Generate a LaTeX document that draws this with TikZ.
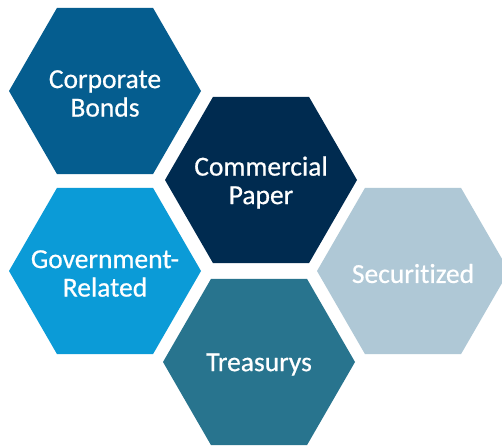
\documentclass[tikz,border=0pt]{standalone}
\usepackage{fontspec}
\setmainfont{Carlito}[FakeBold=0.6, Ligatures=NoCommon]
\usetikzlibrary{shapes.geometric}
\definecolor{corpblue}{RGB}{5,93,143}
\definecolor{paperblue}{RGB}{0,43,80}
\definecolor{govblue}{RGB}{11,155,215}
\definecolor{secblue}{RGB}{175,200,214}
\definecolor{treasblue}{RGB}{40,116,142}
\tikzset{
  hexcell/.style={regular polygon, regular polygon sides=6, minimum size=192pt,
    inner sep=0pt, outer sep=0pt, draw=none},
  hextext/.style={text=white, align=center, inner sep=0pt, yshift=-2.5pt,
    font=\fontsize{27.5}{28.5}\selectfont}
}
\begin{document}
\begin{tikzpicture}[x=1pt,y=-1pt]
  \useasboundingbox (0,0) rectangle (502,446);
  \clip (0,0) rectangle (502,446);
  \fill[white] (0,0) rectangle (502,446);
  % hexagonal cells, each with its caption centred on it
  \node[hexcell, fill=corpblue,  label={[hextext]center:Corporate\\Bonds}]    (corp)  at (105,91)  {};
  \node[hexcell, fill=paperblue, label={[hextext]center:Commercial\\Paper}]   (paper) at (261,180) {};
  \node[hexcell, fill=govblue,   label={[hextext]center:Government-\\Related}] (gov)   at (105,271) {};
  % the kern keeps "t" and "i" as separate glyphs
  \node[hexcell, fill=secblue,   label={[hextext]center:Securit\kern0pt ized}] (sec)   at (413,271) {};
  \node[hexcell, fill=treasblue, label={[hextext]center:Treasurys}]           (treas) at (259,362) {};
\end{tikzpicture}
\end{document}
